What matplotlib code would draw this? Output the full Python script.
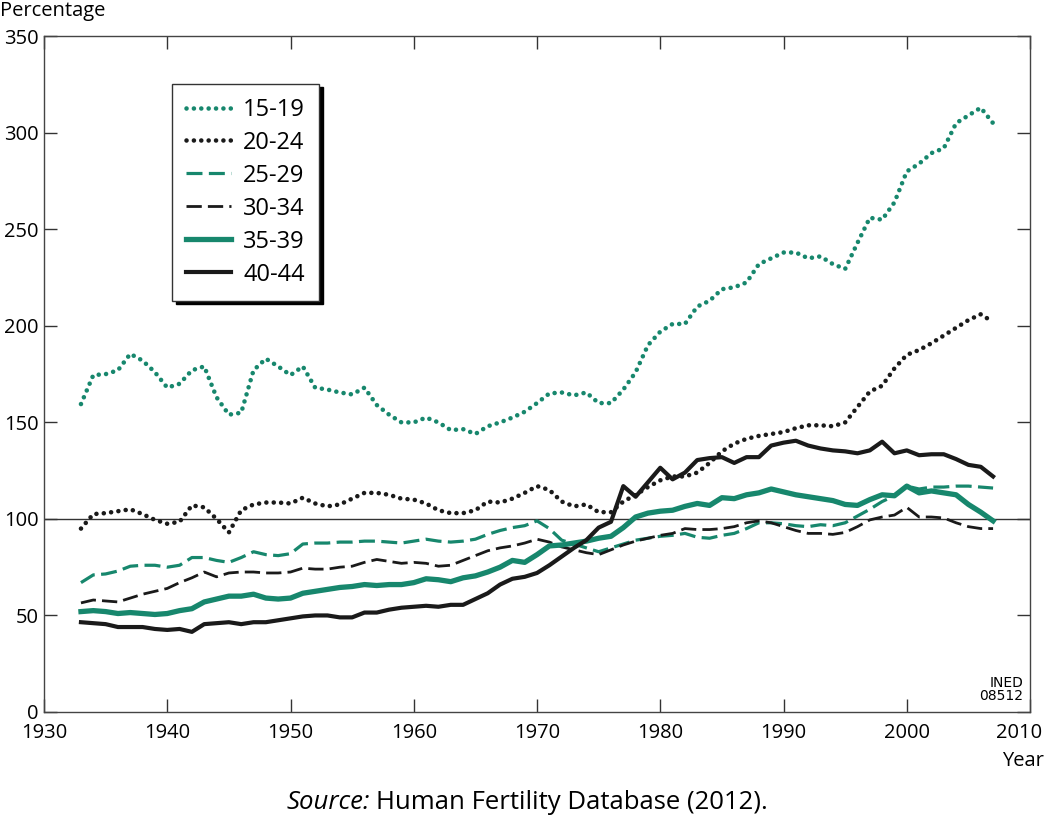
import matplotlib
matplotlib.use("Agg")
import matplotlib.pyplot as plt
import matplotlib.transforms as mtransforms
import numpy as np

plt.rcParams['font.family'] = ['Open Sans', 'DejaVu Sans']

years = list(range(1933, 2008))

age_15_19 = [159.5, 174.5, 175, 177, 185.5, 182, 176, 168, 170, 177,
             179, 163, 154, 155, 177, 183, 179, 174.5, 179, 168,
             167, 165.5, 164.5, 168, 159, 154, 150, 150, 152.5, 150,
             146, 146.5, 144, 148, 150, 152.5, 155.5, 160, 165, 165.5,
             164, 165.5, 160, 160, 167, 176, 190, 197, 201, 201,
             210, 213, 219, 220, 222.5, 232, 235, 238, 238, 235,
             236, 232, 229.5, 243, 256, 255, 264, 280, 284, 289.5,
             292, 305, 309, 313, 305]
age_20_24 = [95, 102.5, 103, 104, 105, 102.5, 99.5, 97.5, 98.5, 107,
             106, 100, 93, 104.5, 107.5, 108.5, 108.5, 108, 111, 108,
             106.5, 107.5, 110.5, 113.5, 113.5, 112.5, 110.5, 110, 108, 104.5,
             103, 103, 104.5, 109, 108.5, 110.5, 113.5, 117, 115, 109,
             106.5, 107.5, 103.5, 103.5, 109, 112.5, 116.5, 120, 122, 122,
             124, 129, 135, 139, 141.5, 143, 144, 145, 147, 148.5,
             148.5, 148, 150, 158, 166, 169, 178, 185, 187.5, 191,
             195, 199, 203, 206, 202]
age_25_29 = [67, 71, 71.5, 73, 75.5, 76, 76, 75, 76, 80,
             80, 78.5, 77.5, 80, 83, 81.5, 81, 82, 87, 87.5,
             87.5, 88, 88, 88.5, 88.5, 88, 87.5, 88.5, 89.5, 88.5,
             88, 88.5, 89.5, 92, 94, 95.5, 96.5, 99, 95, 89,
             87, 85, 83, 85, 87, 89, 90, 91, 91.5, 92.5,
             90.5, 90, 91.5, 92.5, 95, 98, 98, 97.5, 96.5, 96,
             97, 96.5, 98, 101.5, 105, 109, 112, 117, 115.5, 116.5,
             116.5, 117, 117, 116.5, 116]
age_30_34 = [56.5, 58, 57.5, 57, 59, 61, 62.5, 64, 67, 69.5,
             72.5, 70, 72, 72.5, 72.5, 72, 72, 72.5, 74.5, 74,
             74, 75, 75.5, 77.5, 79, 78, 77, 77.5, 77, 75.5,
             76, 78.5, 81, 83.5, 85, 86, 87.5, 89.5, 88, 85.5,
             84, 82.5, 81.5, 84, 86.5, 88.5, 90, 91.5, 92.5, 95,
             94.5, 94.5, 95, 96, 98, 99, 98, 96, 94, 92.5,
             92.5, 92, 93, 96, 99.5, 101, 102, 106, 101, 101,
             100.5, 98, 96, 95, 95]
age_35_39 = [52, 52.5, 52, 51, 51.5, 51, 50.5, 51, 52.5, 53.5,
             57, 58.5, 60, 60, 61, 59, 58.5, 59, 61.5, 62.5,
             63.5, 64.5, 65, 66, 65.5, 66, 66, 67, 69, 68.5,
             67.5, 69.5, 70.5, 72.5, 75, 78.5, 77.5, 81.5, 86, 86.5,
             87.5, 88.5, 90, 91, 95.5, 101, 103, 104, 104.5, 106.5,
             108, 107, 111, 110.5, 112.5, 113.5, 115.5, 114, 112.5, 111.5,
             110.5, 109.5, 107.5, 107, 110, 112.5, 112, 117, 113.5, 114.5,
             113.5, 112.5, 107.5, 103.5, 99]
age_40_44 = [46.5, 46, 45.5, 44, 44, 44, 43, 42.5, 43, 41.5,
             45.5, 46, 46.5, 45.5, 46.5, 46.5, 47.5, 48.5, 49.5, 50,
             50, 49, 49, 51.5, 51.5, 53, 54, 54.5, 55, 54.5,
             55.5, 55.5, 58.5, 61.5, 66, 69, 70, 72, 76, 80.5,
             85, 89, 95.5, 98.5, 117, 111.5, 119, 126.5, 120.5, 124,
             130.5, 131.5, 132, 129, 132, 132, 138, 139.5, 140.5, 138,
             136.5, 135.5, 135, 134, 135.5, 140, 134, 135.5, 133, 133.5,
             133.5, 131, 128, 127, 122]

green = '#17876d'
black = '#1a1a1a'

fig = plt.figure(figsize=(10.5, 8.25), dpi=100)
ax = fig.add_axes([0.0419, 0.137, 0.9391, 0.819])

dot = (0, (0.01, 1.6))
ax.plot(years, age_15_19, color=green, lw=3.3, linestyle=dot,
        dash_capstyle='round', label='15-19')
ax.plot(years, age_20_24, color=black, lw=3.3, linestyle=dot,
        dash_capstyle='round', label='20-24')
ax.plot(years, age_25_29, color=green, lw=2.3, linestyle=(0, (5, 2)),
        label='25-29')
ax.plot(years, age_30_34, color=black, lw=2.0, linestyle=(0, (5.5, 2.2)),
        label='30-34')
ax.plot(years, age_35_39, color=green, lw=3.8, label='35-39')
ax.plot(years, age_40_44, color=black, lw=3.0, label='40-44')

ax.axhline(100, color='#333333', lw=1.0, zorder=1)

ax.set_xlim(1930, 2010)
ax.set_ylim(0, 350)
ax.set_xticks(range(1930, 2011, 10))
ax.set_yticks(range(0, 351, 50))
ax.tick_params(direction='in', length=9.5, width=1.0, color='#333333',
               top=True, right=True, labelsize=14.5)
ax.tick_params(axis='y', pad=4)
ax.tick_params(axis='x', pad=8)
for s in ax.spines.values():
    s.set_color('#444444')
    s.set_linewidth(1.0)

# pull the last x label a little left so it stays inside the figure
last = ax.get_xticklabels()[-1]
last.set_transform(last.get_transform() +
                   mtransforms.ScaledTranslation(-8 / 72, 0, fig.dpi_scale_trans))

leg = ax.legend(loc='upper left', bbox_to_anchor=(0.13, 0.93),
                borderaxespad=0, fontsize=17, frameon=True, fancybox=False,
                handlelength=1.9, handletextpad=0.5, labelspacing=0.38,
                borderpad=0.6,
                shadow={'ox': 2.5, 'oy': -2.5, 'color': 'black', 'alpha': 1})
leg.get_frame().set_edgecolor('#333333')
leg.get_frame().set_linewidth(1.0)

fig.text(0.0, 0.999, 'Percentage', fontsize=14.5, va='top', ha='left')
fig.text(0.974, 0.078, 'Year', fontsize=14.5, ha='center', va='center')
ax.text(0.993, 0.013, 'INED\n08512', transform=ax.transAxes, ha='right',
        va='bottom', fontsize=10, linespacing=0.9,
        family=['Liberation Sans Narrow', 'DejaVu Sans'])

fig.text(0.352, 0.027, 'Source:', fontsize=18.5, style='italic',
         ha='right', va='center')
fig.text(0.358, 0.027, 'Human Fertility Database (2012).', fontsize=18.5,
         ha='left', va='center')

fig.savefig('out.png', dpi=100)
